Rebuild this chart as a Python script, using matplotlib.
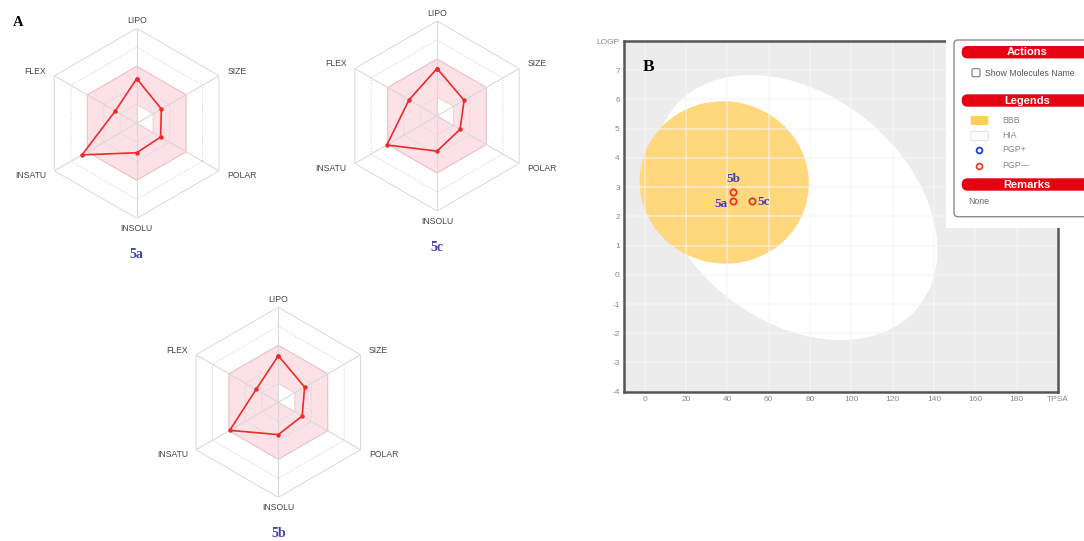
import numpy as np
import matplotlib.pyplot as plt
from matplotlib.patches import Ellipse, FancyBboxPatch, Rectangle
from matplotlib.transforms import Affine2D

# bioavailability radar: axes and scaled values (0..1) per compound
radar_axes = ["LIPO", "SIZE", "POLAR", "INSOLU", "INSATU", "FLEX"]
radar_5a = [0.47, 0.30, 0.29, 0.31, 0.665, 0.26]
radar_5b = [0.49, 0.32, 0.29, 0.34, 0.59, 0.27]
radar_5c = [0.50, 0.33, 0.28, 0.37, 0.61, 0.34]
optimal_upper = [0.6, 0.6, 0.6, 0.6, 0.6, 0.6]
optimal_lower = [0.2, 0.2, 0.2, 0.0, 0.0, 0.0]
rings = [0.2, 0.4, 0.6, 0.8, 1.0]

# boiled-egg points
compounds = ["5a", "5b", "5c"]
tpsa = [42.7, 42.7, 51.9]
logp = [2.52, 2.82, 2.53]
x_ticks = [0, 20, 40, 60, 80, 100, 120, 140, 160, 180, 200]
x_tick_labels = ["0", "20", "40", "60", "80", "100", "120", "140", "160", "180", "TPSA"]
y_ticks = [-4, -3, -2, -1, 0, 1, 2, 3, 4, 5, 6, 7, 8]
y_tick_labels = ["-4", "-3", "-2", "-1", "0", "1", "2", "3", "4", "5", "6", "7", "LOGP"]

W, H = 1084, 541
SANS = "Liberation Sans"
SERIF = "Liberation Serif"
BLUE = "#4242b2"

fig = plt.figure(figsize=(W / 100, H / 100), dpi=100)


def px_rect(x0, y0, w, h):
    return [x0 / W, 1 - (y0 + h) / H, w / W, h / H]


def closed(v):
    return list(v) + [v[0]]


theta = np.deg2rad(np.arange(0, 360, 60))
theta_c = closed(theta)


def radar(cx, cy, values, name, R=95):
    ax = fig.add_axes(px_rect(cx - R, cy - R, 2 * R, 2 * R), projection="polar")
    ax.set_theta_zero_location("N")
    ax.set_theta_direction(-1)
    ax.set_ylim(0, 1)
    ax.grid(False)
    ax.set_xticks([])
    ax.set_yticks([])
    ax.spines["polar"].set_visible(False)
    ax.patch.set_alpha(0)

    # optimal range (pink) with the inner white cut-out
    ax.fill(theta_c, closed(optimal_upper), color="#fce1e6", ec="#f4bfc8", lw=0.8, zorder=1)
    ax.fill(theta_c, closed(optimal_lower), color="white", ec="#f6d3d9", lw=0.6, zorder=1.1)

    for r in rings:
        if r == 1.0:
            ax.plot(theta_c, [r] * 7, color="#dddddd", lw=0.8, zorder=1.5)
        else:
            ax.plot(theta_c, [r] * 7, color="#d2d2d2", lw=0.7, ls=(0, (1, 1.5)), zorder=1.5)
    for t in theta:
        ax.plot([t, t], [0, 1], color="#d9d9d9", lw=0.8, zorder=1.6)

    ax.plot(theta_c, closed(values), color="#ee2b2b", lw=1.2, marker="o", ms=2.2, zorder=3)

    align = [("center", "bottom", 1.03), ("left", "center", 1.1), ("left", "center", 1.1),
             ("center", "top", 1.06), ("right", "center", 1.1), ("right", "center", 1.1)]
    for t, lab, (ha, va, r) in zip(theta, radar_axes, align):
        ax.text(t, r, lab, ha=ha, va=va, fontsize=6.2, color="#444444", family=SANS)
    ax.text(0.5, -0.19, name, transform=ax.transAxes, ha="center", va="center",
            fontsize=10, fontweight="bold", color=BLUE, family=SERIF)


radar(136.7, 123.3, radar_5a, "5a")
radar(437.0, 116.0, radar_5c, "5c")
radar(278.3, 402.3, radar_5b, "5b")

# ---- BOILED-Egg plot ----
ax_x0, ax_y0, ax_w, ax_h = 624, 41, 434, 350.7
ax2 = fig.add_axes(px_rect(ax_x0, ax_y0, ax_w, ax_h))
ax2.set_xlim(-10, 200)
ax2.set_ylim(-4, 8)
ax2.set_facecolor("#ececec")
ax2.set_xticks(x_ticks, x_tick_labels)
ax2.set_yticks(y_ticks, y_tick_labels)
ax2.tick_params(length=0, labelsize=6, labelcolor="#888888", pad=3)
for lab in ax2.get_xticklabels() + ax2.get_yticklabels():
    lab.set_family(SANS)
for s in ax2.spines.values():
    s.set_color("#555555")
    s.set_linewidth(1.8)
ax2.set_axisbelow("line")
ax2.grid(True, color="#f6f6f6", alpha=0.5, lw=1.5)

# ellipses drawn in a space where TPSA and LOGP*k have the same pixel scale
k = (ax_h / 12) / (ax_w / 210)
iso = Affine2D().scale(1, 1 / k) + ax2.transData
ax2.add_patch(Ellipse((73.2, 2.30 * k), 152.6, 109.1, angle=-39.2,
                      facecolor="white", edgecolor="none", transform=iso, zorder=0.8))
ax2.add_patch(Ellipse((38.5, 3.16 * k), 82.0, 78.5, angle=-10,
                      facecolor="#ffd77c", edgecolor="none", transform=iso, zorder=0.9))

ax2.plot(tpsa, logp, "o", mfc="none", mec="#ee3322", ms=4.5, mew=1.3, zorder=4)
offsets = {"5a": (-4, -2, "right", "center"), "5b": (0, 5, "center", "bottom"),
           "5c": (4, -1, "left", "center")}
for name, x, y in zip(compounds, tpsa, logp):
    dx, dy, ha, va = offsets[name]
    ax2.annotate(name, (x, y), xytext=(dx, dy), textcoords="offset points", ha=ha, va=va,
                 fontsize=9.5, fontweight="bold", color=BLUE, family=SERIF, zorder=5)

# ---- overlay: panel letters and legend panel ----
ov = fig.add_axes([0, 0, 1, 1], zorder=10)
ov.set_xlim(0, W)
ov.set_ylim(H, 0)
ov.axis("off")
ov.patch.set_alpha(0)

ov.text(18, 22, "A", ha="center", va="center", fontsize=10.5, fontweight="bold", family=SERIF)
ov.text(649, 67, "B", ha="center", va="center", fontsize=12.5, fontweight="bold", family=SERIF)

ov.add_patch(Rectangle((946, 30), 140, 198, facecolor="white", edgecolor="none"))
ov.add_patch(FancyBboxPatch((954, 40), 150, 176.7, boxstyle="round,pad=0,rounding_size=4",
                            facecolor="white", edgecolor="#8a8a8a", lw=1))

for title, y in [("Actions", 46), ("Legends", 94.3), ("Remarks", 178.3)]:
    ov.add_patch(FancyBboxPatch((961.7, y), 130, 12.4, boxstyle="round,pad=0,rounding_size=6",
                                facecolor="#e60012", edgecolor="none"))
    ov.text(1026.7, y + 6.4, title, ha="center", va="center", color="white",
            fontsize=8, fontweight="bold", family=SANS)

ov.add_patch(FancyBboxPatch((972, 68.7), 8, 8, boxstyle="round,pad=0,rounding_size=1.5",
                            facecolor="white", edgecolor="#777777", lw=0.8))
ov.text(985, 73, "Show Molecules Name", ha="left", va="center", fontsize=6.3,
        color="#555555", family=SANS)

ov.add_patch(FancyBboxPatch((970.7, 116), 17.6, 9, boxstyle="round,pad=0,rounding_size=1.5",
                            facecolor="#ffcf5a", edgecolor="none"))
ov.add_patch(FancyBboxPatch((970.7, 131.5), 17.6, 9, boxstyle="round,pad=0,rounding_size=1.5",
                            facecolor="white", edgecolor="#e4e4e4", lw=0.8))
ov.plot(979, 150, "o", mfc="none", mec="#1f3fd0", ms=4.2, mew=1.3)
ov.plot(979, 165.7, "o", mfc="none", mec="#e8402a", ms=4.2, mew=1.3)
for lab, y in [("BBB", 120.5), ("HIA", 135.8), ("PGP+", 150), ("PGP\u2014", 165.5)]:
    ov.text(1002.7, y, lab, ha="left", va="center", fontsize=6.3, color="#888888", family=SANS)
ov.text(968.3, 201, "None", ha="left", va="center", fontsize=6.3, color="#666666", family=SANS)

fig.savefig("out.png", dpi=100)
